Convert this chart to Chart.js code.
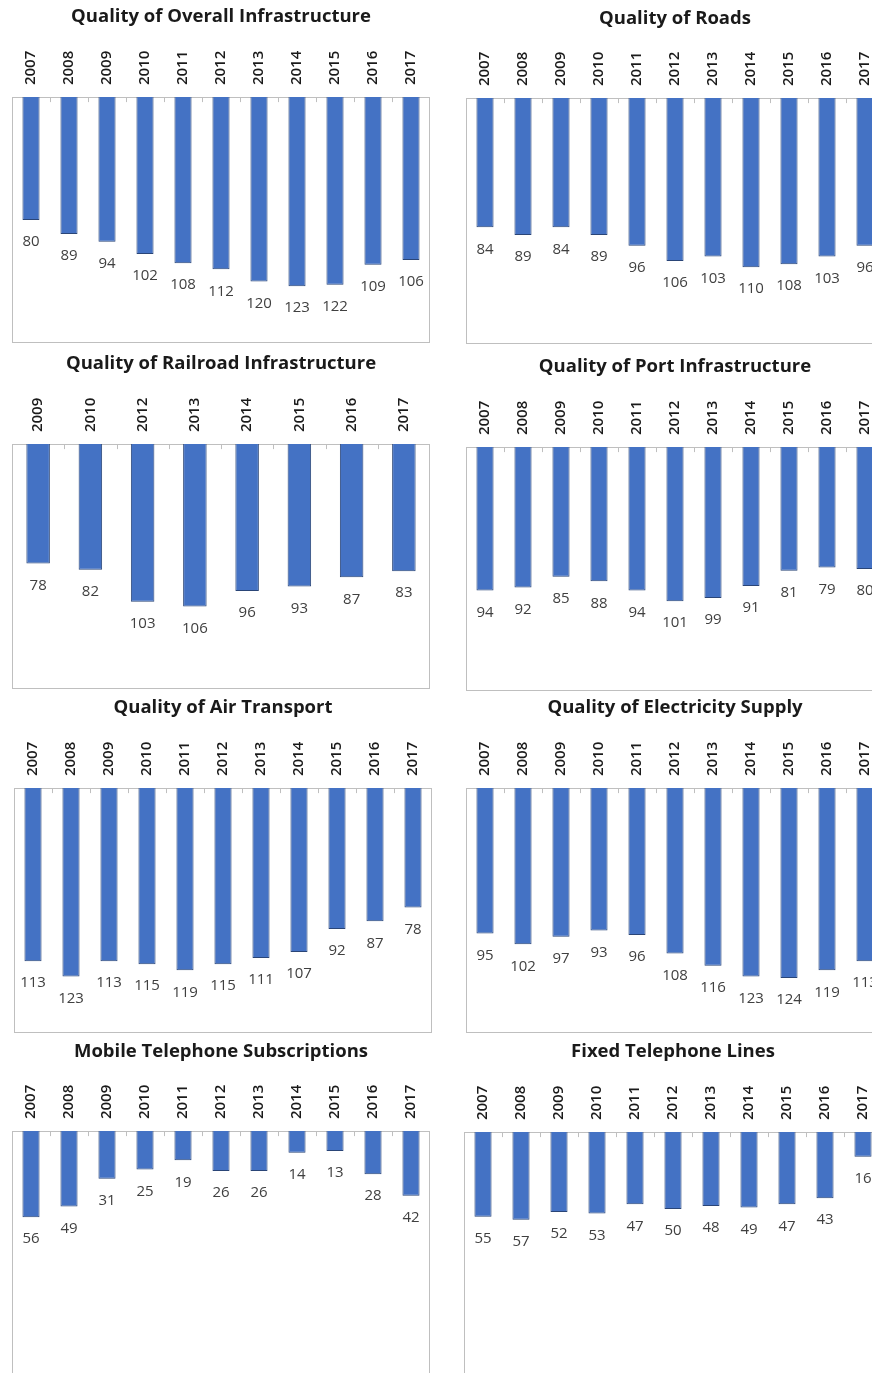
<!DOCTYPE html>
<html>
<head>
<meta charset="utf-8">
<script src="https://cdn.jsdelivr.net/npm/chart.js@4"></script>
<style>
  html, body { margin: 0; background: #fff; }
  body { width: 872px; height: 1373px; position: relative; overflow: hidden; }
  .panel { position: absolute; }
</style>
</head>
<body>
<script>
// ranks per year (lower = better)
const years = ['2007','2008','2009','2010','2011','2012','2013','2014','2015','2016','2017'];
const railYears = ['2009','2010','2012','2013','2014','2015','2016','2017'];

const overallInfra = [80, 89, 94, 102, 108, 112, 120, 123, 122, 109, 106];
const roads = [84, 89, 84, 89, 96, 106, 103, 110, 108, 103, 96];
const railroad = [78, 82, 103, 106, 96, 93, 87, 83];
const ports = [94, 92, 85, 88, 94, 101, 99, 91, 81, 79, 80];
const airTransport = [113, 123, 113, 115, 119, 115, 111, 107, 92, 87, 78];
const electricity = [95, 102, 97, 93, 96, 108, 116, 123, 124, 119, 113];
const mobilePhones = [56, 49, 31, 25, 19, 26, 26, 14, 13, 28, 42];
const fixedLines = [55, 57, 52, 53, 47, 50, 48, 49, 47, 43, 16];

const panels = [
  {title: 'Quality of Overall Infrastructure', labels: years, data: overallInfra, x: 12, titleY: 17, boxTop: 97, boxBottom: 343},
  {title: 'Quality of Roads', labels: years, data: roads, x: 466, titleY: 19, boxTop: 98, boxBottom: 344},
  {title: 'Quality of Railroad Infrastructure', labels: railYears, data: railroad, x: 12, titleY: 364, boxTop: 444, boxBottom: 689},
  {title: 'Quality of Port Infrastructure', labels: years, data: ports, x: 466, titleY: 367, boxTop: 447, boxBottom: 691},
  {title: 'Quality of Air Transport', labels: years, data: airTransport, x: 14, titleY: 708, boxTop: 788, boxBottom: 1033},
  {title: 'Quality of Electricity Supply', labels: years, data: electricity, x: 466, titleY: 708, boxTop: 788, boxBottom: 1033},
  {title: 'Mobile Telephone Subscriptions', labels: years, data: mobilePhones, x: 12, titleY: 1052, boxTop: 1131, boxBottom: 1377},
  {title: 'Fixed Telephone Lines', labels: years, data: fixedLines, x: 464, titleY: 1052, boxTop: 1132, boxBottom: 1378}
];

const PLOT_W = 418;
const TITLE_SIZE = 18.5;
const TITLE_PAD = 5;
const TITLE_H = TITLE_PAD + TITLE_SIZE * 1.2;
const YEAR_SIZE = 15;

// frame around plot + small tick marks on the top axis
const framePlugin = {
  id: 'frame',
  beforeDatasetsDraw(chart) {
    const {ctx, chartArea: a} = chart;
    const xs = chart.scales.x;
    ctx.save();
    ctx.strokeStyle = '#bfbfbf';
    ctx.lineWidth = 1;
    ctx.strokeRect(Math.round(a.left) + 0.5, Math.round(a.top) + 0.5, Math.round(a.right - a.left) - 1, Math.round(a.bottom - a.top) - 1);
    ctx.beginPath();
    for (let i = 1; i < chart.data.labels.length; i++) {
      const x = Math.round((xs.getPixelForValue(i - 1) + xs.getPixelForValue(i)) / 2) + 0.5;
      ctx.moveTo(x, a.top);
      ctx.lineTo(x, a.top + 5);
    }
    ctx.stroke();
    ctx.restore();
  }
};

// value labels under the bar ends
const valuePlugin = {
  id: 'values',
  afterDatasetsDraw(chart) {
    const {ctx} = chart;
    const meta = chart.getDatasetMeta(0);
    const vals = chart.data.datasets[0].data;
    ctx.save();
    ctx.font = '15px "Open Sans", sans-serif';
    ctx.fillStyle = '#404040';
    ctx.textAlign = 'center';
    ctx.textBaseline = 'middle';
    meta.data.forEach((bar, i) => {
      ctx.fillText(String(vals[i]), bar.x, bar.y + 22);
    });
    ctx.restore();
  }
};

panels.forEach(p => {
  const titleCenter = TITLE_PAD + TITLE_SIZE * 0.6;
  const top = p.titleY - titleCenter;
  const div = document.createElement('div');
  div.className = 'panel';
  div.style.left = (p.x - 4) + 'px';
  div.style.top = top + 'px';
  div.style.width = (PLOT_W + 8) + 'px';
  div.style.height = (p.boxBottom - top + 1) + 'px';
  const canvas = document.createElement('canvas');
  div.appendChild(canvas);
  document.body.appendChild(div);

  const axisH = p.boxTop - top - TITLE_H;

  new Chart(canvas, {
    type: 'bar',
    data: {
      labels: p.labels,
      datasets: [{
        data: p.data,
        backgroundColor: '#4472c4',
        borderColor: '#2a4577',
        borderWidth: 1,
        categoryPercentage: 1,
        barPercentage: 0.45
      }]
    },
    options: {
      responsive: true,
      maintainAspectRatio: false,
      animation: false,
      layout: {padding: {left: 4, right: 4, top: 0, bottom: 1}},
      plugins: {
        legend: {display: false},
        tooltip: {enabled: false},
        title: {
          display: true,
          text: p.title,
          color: '#1a1a1a',
          font: {family: '"Open Sans", sans-serif', size: TITLE_SIZE, weight: 'bold'},
          padding: {top: TITLE_PAD, bottom: 0}
        }
      },
      scales: {
        x: {
          position: 'top',
          grid: {display: false, drawTicks: false},
          border: {display: false},
          ticks: {
            autoSkip: false,
            minRotation: 90,
            maxRotation: 90,
            padding: 12,
            labelOffset: YEAR_SIZE * 1.2,
            color: '#1a1a1a',
            font: {family: '"Open Sans", sans-serif', size: YEAR_SIZE, weight: '600'}
          },
          afterFit(scale) {
            scale.height = axisH;
            scale.paddingLeft = 0;
            scale.paddingRight = 0;
          }
        },
        y: {
          display: false,
          reverse: true,
          min: 0,
          max: 160
        }
      }
    },
    plugins: [framePlugin, valuePlugin]
  });
});
</script>
</body>
</html>
